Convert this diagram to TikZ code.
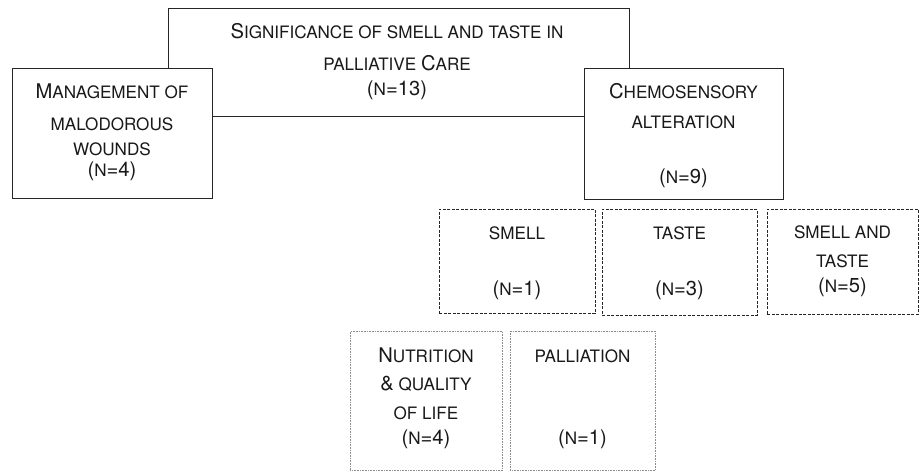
\documentclass[tikz,border=0pt]{standalone}
\usepackage{fontspec}
\setmainfont{TeX Gyre Heros}
\newcommand\Bg[1]{{\fontsize{20.2}{22}\selectfont #1}}
\begin{document}
\begin{tikzpicture}[x=1pt,y=-1pt,
  box/.style={inner sep=0pt,anchor=north west,fill=white},
  solidbox/.style={box,draw=black!85,line width=1pt},
  dashbox/.style={box,draw=black!85,line width=0.9pt,dash pattern=on 3pt off 1.5pt},
  dotbox/.style={box,draw=black!45,line width=0.9pt,dash pattern=on 0.8pt off 0.8pt},
  lbl/.style={anchor=base,inner sep=0pt,font=\fontsize{17.1}{18}\selectfont,text=black!90}]
\useasboundingbox (0,0) rectangle (922,471);
% boxes
\node[solidbox,minimum width=461pt,minimum height=108pt] (top) at (168,8) {};
\node[solidbox,minimum width=200pt,minimum height=130pt] (mgmt) at (12,68) {};
\node[solidbox,minimum width=199pt,minimum height=131pt] (chemo) at (584,68) {};
\node[dashbox,minimum width=156pt,minimum height=104pt] (smell) at (439,209) {};
\node[dashbox,minimum width=155pt,minimum height=106pt] (taste) at (602,209) {};
\node[dashbox,minimum width=151pt,minimum height=105pt] (both) at (767,209) {};
\node[dotbox,minimum width=152pt,minimum height=139pt] (nutri) at (350,331) {};
\node[dotbox,minimum width=145pt,minimum height=139pt] (pall) at (510,331) {};
% texts
\node[lbl] (t1) at (397,38) {\Bg{S}IGNIFICANCE OF SMELL AND TASTE IN};
\node[lbl] (t2) at (397,70) {PALLIATIVE \Bg{C}ARE};
\node[lbl] (t3) at (397,95) {\Bg{(}N\Bg{=13)}};
\node[lbl] (m1) at (112,98) {\Bg{M}ANAGEMENT OF};
\node[lbl] (m2) at (112,130) {MALODOROUS};
\node[lbl] (m3) at (112,155) {WOUNDS};
\node[lbl] (m4) at (112,176) {\Bg{(}N\Bg{=4)}};
\node[lbl] (c1) at (683.5,98) {\Bg{C}HEMOSENSORY};
\node[lbl] (c2) at (683.5,128) {ALTERATION};
\node[lbl] (c3) at (683.5,183) {\Bg{(}N\Bg{=9)}};
\node[lbl] (s1) at (517,239) {SMELL};
\node[lbl] (s2) at (517,295) {\Bg{(}N\Bg{=1)}};
\node[lbl] (a1) at (679.5,239) {TASTE};
\node[lbl] (a2) at (679.5,295) {\Bg{(}N\Bg{=3)}};
\node[lbl] (b1) at (842.5,238) {SMELL AND};
\node[lbl] (b2) at (842.5,267) {TASTE};
\node[lbl] (b3) at (842.5,292) {\Bg{(}N\Bg{=5)}};
\node[lbl] (n1) at (426,362) {\Bg{N}UTRITION};
\node[lbl] (n2) at (426,390) {\Bg{\&} QUALITY};
\node[lbl] (n3) at (426,419) {OF LIFE};
\node[lbl] (n4) at (426,444) {\Bg{(}N\Bg{=4)}};
\node[lbl] (p1) at (582.5,362) {PALLIATION};
\node[lbl] (p2) at (582.5,444) {\Bg{(}N\Bg{=1)}};
\end{tikzpicture}
\end{document}
